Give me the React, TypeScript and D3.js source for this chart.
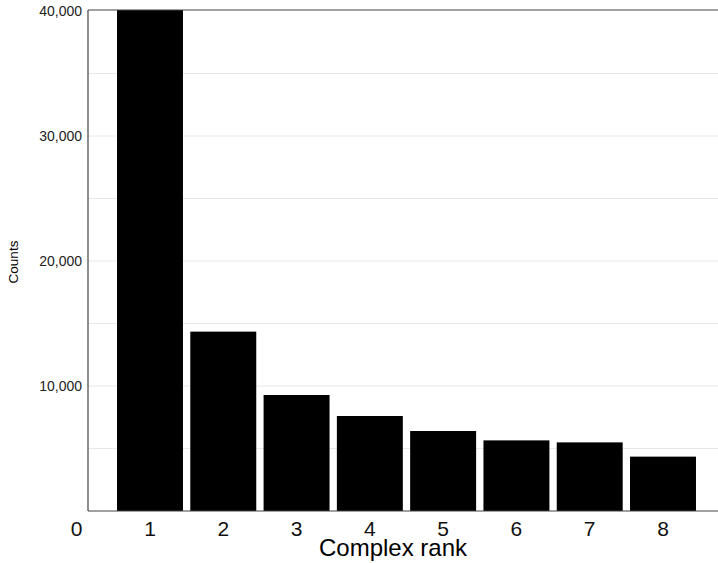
import React from "react";
import * as d3 from "d3";

const ranks = [1, 2, 3, 4, 5, 6, 7, 8];
const counts = [45000, 14350, 9280, 7600, 6400, 5650, 5490, 4350];
const xTicks = [0, 1, 2, 3, 4, 5, 6, 7, 8];
const yTicks = [10000, 20000, 30000, 40000];
const gridValues = [5000, 10000, 15000, 20000, 25000, 30000, 35000];

export default function App() {
  const W = 718, H = 563;
  const panelLeft = 88, panelRight = 718, panelTop = 10, panelBottom = 511;
  const x = d3.scaleLinear().domain([0, 8]).range([76.7, 663]);
  const y = d3.scaleLinear().domain([0, 40000]).range([panelBottom, 11]);
  const bw = (x(1) - x(0)) * 0.9;
  const fmt = d3.format(",");
  const font = "'Liberation Sans', Arial, Helvetica, sans-serif";
  return (
    <svg width={W} height={H} style={{ position: "absolute", left: 0, top: 0 }} fontFamily={font}>
      <defs>
        <clipPath id="panel">
          <rect x={panelLeft} y={panelTop} width={panelRight - panelLeft} height={panelBottom - panelTop} />
        </clipPath>
      </defs>
      <rect x={0} y={0} width={W} height={H} fill="#fff" />
      {gridValues.map((v) => (
        <line key={v} x1={panelLeft} x2={panelRight} y1={y(v)} y2={y(v)} stroke="#e8e8e8" strokeWidth={1} />
      ))}
      <g clipPath="url(#panel)">
        {ranks.map((r, i) => (
          <rect key={r} x={x(r) - bw / 2} y={y(counts[i])} width={bw} height={panelBottom - y(counts[i])} fill="#000" />
        ))}
      </g>
      <line x1={panelLeft} x2={panelRight} y1={panelTop} y2={panelTop} stroke="#444" strokeWidth={1.2} />
      <line x1={panelLeft} x2={panelRight} y1={panelBottom} y2={panelBottom} stroke="#444" strokeWidth={1.2} />
      <line x1={panelLeft} x2={panelLeft} y1={panelTop} y2={panelBottom} stroke="#444" strokeWidth={1.2} />
      {yTicks.map((v) => (
        <text key={v} x={82} y={y(v)} dy="0.35em" textAnchor="end" fontSize={14} fill="#222">
          {fmt(v)}
        </text>
      ))}
      {xTicks.map((v) => (
        <text key={v} x={x(v)} y={536} textAnchor="middle" fontSize={21} fill="#111">
          {v}
        </text>
      ))}
      <text x={393} y={556} textAnchor="middle" fontSize={24} fill="#000">
        Complex rank
      </text>
      <text transform={`translate(18,262) rotate(-90)`} textAnchor="middle" fontSize={13.5} fill="#000">
        Counts
      </text>
    </svg>
  );
}
